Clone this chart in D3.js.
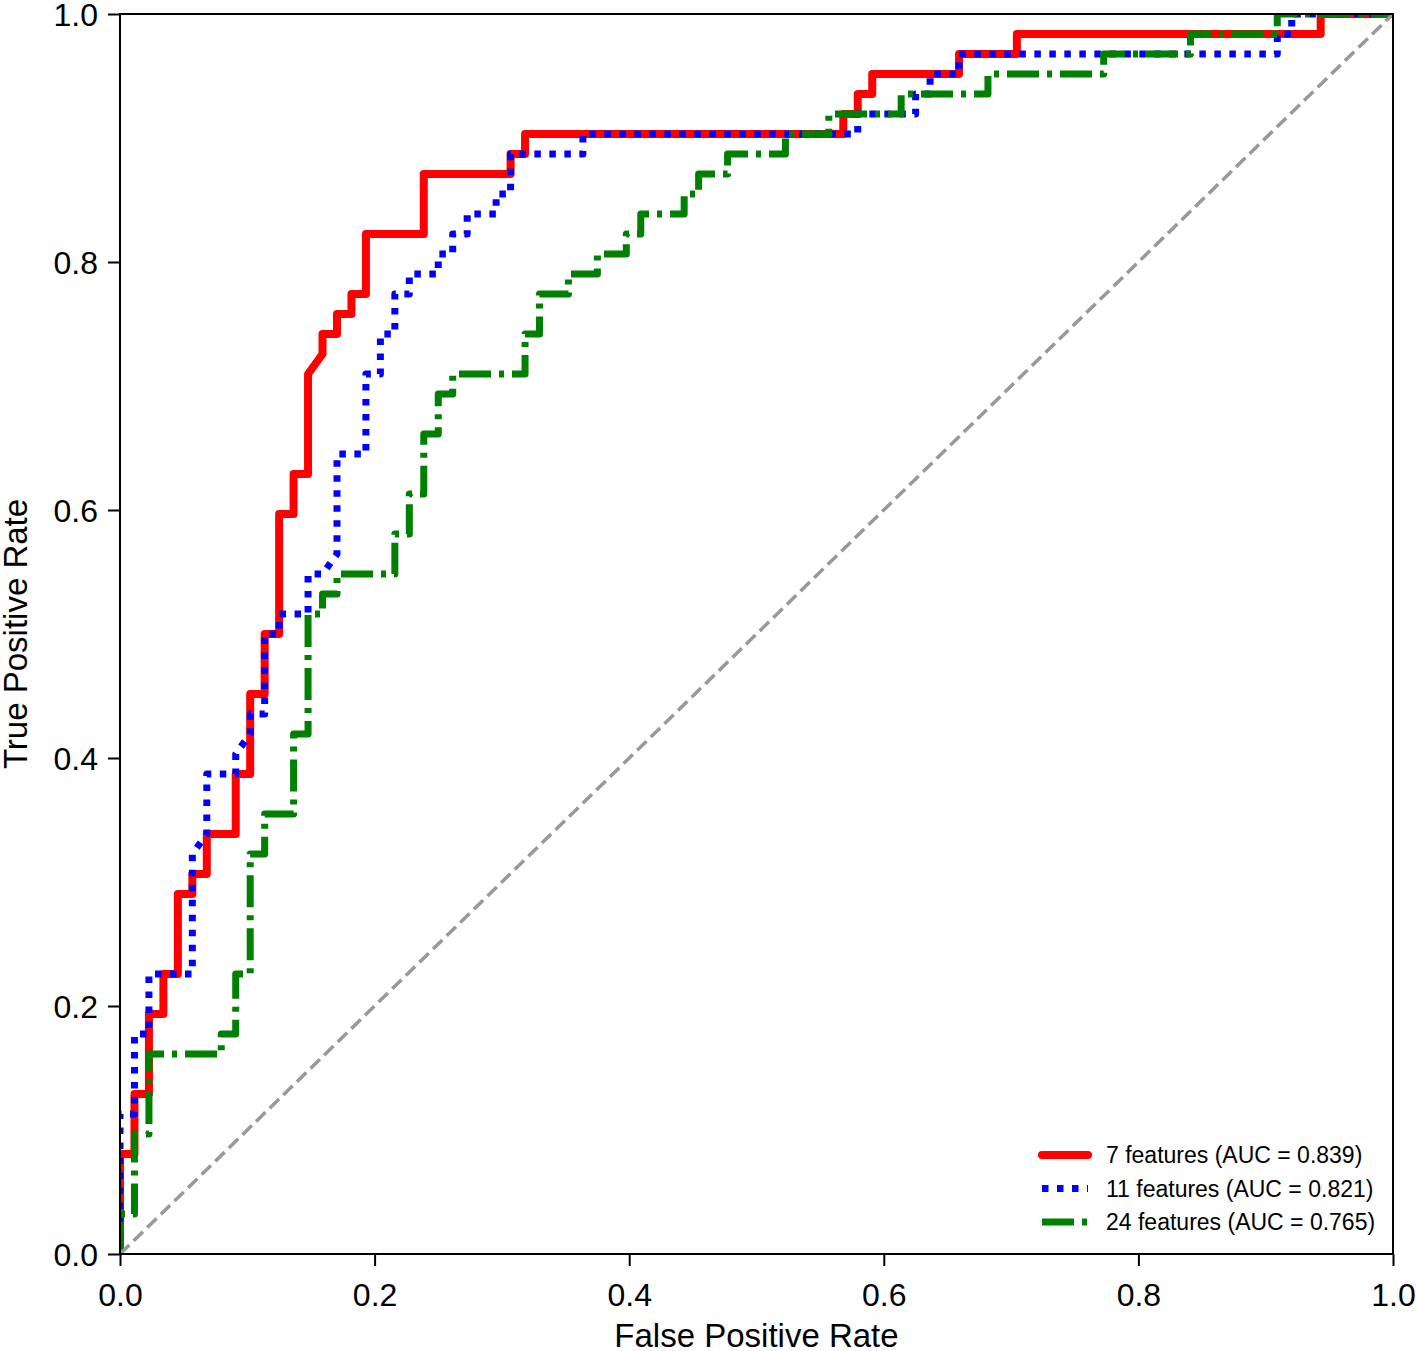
<!DOCTYPE html>
<html>
<head>
<meta charset="utf-8">
<script src="https://cdn.jsdelivr.net/npm/d3@7.9.0/dist/d3.min.js"></script>
<style>
  html, body { margin: 0; padding: 0; background: #fff; }
  svg { display: block; font-family: "Liberation Sans", Arial, sans-serif; }
</style>
</head>
<body>
<svg id="chart" width="1416" height="1351"></svg>
<script>
// ROC curves, points as (false positives, true positives) counts
const NEG_TOTAL = 88;
const POS_TOTAL = 62;

const roc7 = [[0,0],[0,5],[1,5],[1,8],[2,8],[2,12],[3,12],[3,14],[4,14],[4,18],[5,18],[5,19],
  [6,19],[6,21],[8,21],[8,24],[9,24],[9,28],[10,28],[10,31],[11,31],[11,37],[12,37],[12,39],
  [13,39],[13,44],[14,45],[14,46],[15,46],[15,47],[16,47],[16,48],[17,48],[17,51],[21,51],
  [21,54],[27,54],[27,55],[28,55],[28,56],[50,56],[50,57],[51,57],[51,58],[52,58],[52,59],
  [58,59],[58,60],[62,60],[62,61],[83,61],[83,62],[88,62]];

const roc11 = [[0,0],[0,7],[1,7],[1,11],[2,11],[2,14],[5,14],[5,20],[6,21],[6,24],[8,24],[8,25],
  [9,26],[9,27],[10,27],[10,31],[11,31],[11,32],[13,32],[13,34],[14,34],[15,35],[15,40],[17,40],
  [17,44],[18,44],[18,46],[19,46],[19,48],[20,48],[20,49],[22,49],[22,50],[23,50],[23,51],
  [24,51],[24,52],[26,52],[26,53],[27,53],[27,55],[32,55],[32,56],[51,56],[51,57],[55,57],
  [55,58],[56,58],[56,59],[58,59],[58,60],[80,60],[80,61],[81,61],[81,62],[88,62]];

const roc24 = [[0,0],[0,2],[1,2],[1,6],[2,6],[2,10],[7,10],[7,11],[8,11],[8,14],[9,14],[9,20],
  [10,20],[10,22],[12,22],[12,26],[13,26],[13,32],[14,32],[14,33],[15,33],[15,34],[19,34],
  [19,36],[20,36],[20,38],[21,38],[21,41],[22,41],[22,43],[23,43],[23,44],[28,44],[28,46],
  [29,46],[29,48],[31,48],[31,49],[33,49],[33,50],[35,50],[35,51],[36,51],[36,52],[39,52],
  [39,53],[40,53],[40,54],[42,54],[42,55],[46,55],[46,56],[49,56],[49,57],[54,57],[54,58],
  [60,58],[60,59],[68,59],[68,60],[74,60],[74,61],[80,61],[80,62],[88,62]];

const seriesLabels = ["7 features (AUC = 0.839)", "11 features (AUC = 0.821)", "24 features (AUC = 0.765)"];
const tickValues = [0, 0.2, 0.4, 0.6, 0.8, 1.0];

const series = [
  { pts: roc7,  label: seriesLabels[0], color: "#ff0000", width: 8, dash: null },
  { pts: roc11, label: seriesLabels[1], color: "#0000ff", width: 7, dash: "6.5,8.5" },
  { pts: roc24, label: seriesLabels[2], color: "#008000", width: 7, dash: "32,8,5,8" }
];

const box = { left: 120, right: 1393, top: 14, bottom: 1254 };
const svg = d3.select("#chart");

const x = d3.scaleLinear().domain([0, 1]).range([box.left, box.right]);
const y = d3.scaleLinear().domain([0, 1]).range([box.bottom, box.top]);

svg.append("defs").append("clipPath").attr("id", "plotclip")
  .append("rect").attr("x", box.left).attr("y", box.top)
  .attr("width", box.right - box.left).attr("height", box.bottom - box.top);

const plot = svg.append("g").attr("clip-path", "url(#plotclip)");

const line = d3.line()
  .x(d => x(d[0] / NEG_TOTAL))
  .y(d => y(d[1] / POS_TOTAL));

series.forEach(s => {
  plot.append("path")
    .attr("d", line(s.pts))
    .attr("fill", "none")
    .attr("stroke", s.color)
    .attr("stroke-width", s.width)
    .attr("stroke-linejoin", "round")
    .attr("stroke-linecap", s.dash ? "butt" : "square")
    .attr("stroke-dasharray", s.dash);
});

// chance line
plot.append("path")
  .attr("d", d3.line().x(d => x(d)).y(d => y(d))([0, 1]))
  .attr("fill", "none")
  .attr("stroke", "#999999")
  .attr("stroke-width", 3.5)
  .attr("stroke-dasharray", "13,6");

// axes
const fmt = d3.format(".1f");
const xAxis = svg.append("g").attr("transform", `translate(0,${box.bottom})`)
  .call(d3.axisBottom(x).tickValues(tickValues).tickFormat(fmt).tickSize(12).tickSizeOuter(0).tickPadding(10));
const yAxis = svg.append("g").attr("transform", `translate(${box.left},0)`)
  .call(d3.axisLeft(y).tickValues(tickValues).tickFormat(fmt).tickSize(12).tickSizeOuter(0).tickPadding(10));

[xAxis, yAxis].forEach(g => {
  g.select(".domain").remove();
  g.selectAll(".tick line").attr("stroke", "#000").attr("stroke-width", 2);
  g.selectAll(".tick text").attr("fill", "#000").style("font-size", "32px")
    .style("font-family", "'Liberation Sans', Arial, sans-serif");
});
xAxis.selectAll(".tick text").attr("dy", "0.95em");
yAxis.selectAll(".tick text").attr("dy", "0.36em");

// frame
svg.append("rect")
  .attr("x", box.left).attr("y", box.top)
  .attr("width", box.right - box.left).attr("height", box.bottom - box.top)
  .attr("fill", "none").attr("stroke", "#000").attr("stroke-width", 2);

// axis titles
svg.append("text")
  .attr("x", (box.left + box.right) / 2).attr("y", 1347)
  .attr("text-anchor", "middle")
  .style("font-size", "33px")
  .text("False Positive Rate");

svg.append("text")
  .attr("transform", `translate(27,${(box.top + box.bottom) / 2}) rotate(-90)`)
  .attr("text-anchor", "middle")
  .style("font-size", "33px")
  .text("True Positive Rate");

// legend
const legend = svg.append("g");
series.forEach((s, i) => {
  const ly = 1155 + i * 33.5;
  legend.append("line")
    .attr("x1", 1042).attr("x2", 1088)
    .attr("y1", ly).attr("y2", ly)
    .attr("stroke", s.color)
    .attr("stroke-width", s.width)
    .attr("stroke-linecap", s.dash ? "butt" : "round")
    .attr("stroke-dasharray", s.dash);
  legend.append("text")
    .attr("x", 1106).attr("y", ly)
    .attr("dy", "0.36em")
    .style("font-size", "23px")
    .text(s.label);
});
</script>
</body>
</html>
